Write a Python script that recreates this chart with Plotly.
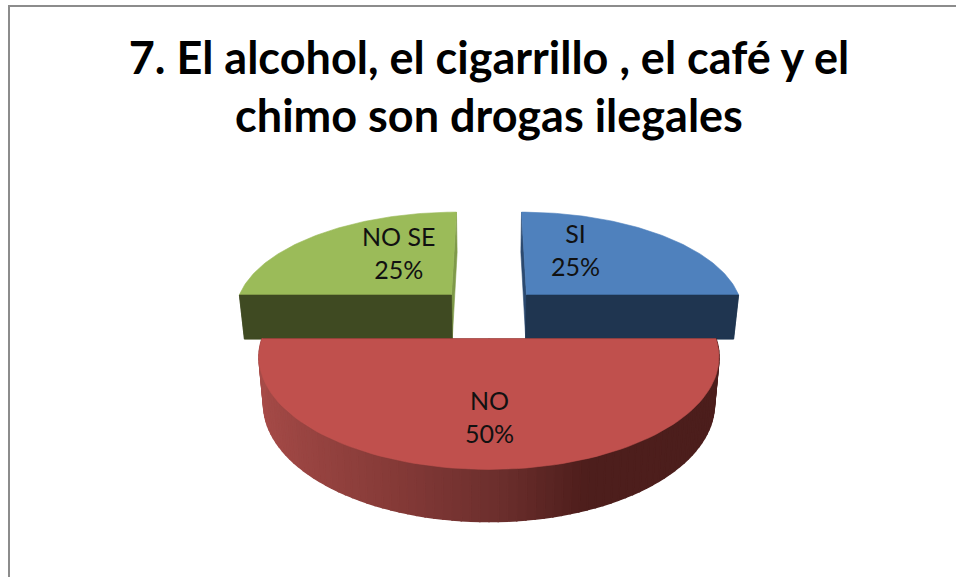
import math
import plotly.graph_objects as go

# ---- data ----
categories = ["SI", "NO", "NO SE"]
percentages = [25, 50, 25]
title_lines = ["7. El alcohol, el cigarrillo , el café y el", "chimo son drogas ilegales"]

# ---- style ----
TOP_COLORS = ["#4f81bd", "#c0504d", "#9bbb59"]
SIDE_COLORS = ["#1f3550", "#4f1f1d", "#3f4a22"]
CUT_COLORS = [("#2c4a70", "#1f3550"), ("#4f1f1d", "#4f1f1d"), ("#3f4a22", "#7f9a49")]
RED_GRADIENT = [(0.0, (168, 76, 73)), (0.3, (136, 60, 57)), (0.52, (108, 47, 45)), (0.68, (78, 30, 28)), (1.0, (76, 30, 28))]
FONT = "Lato, Carlito, Calibri, sans-serif"
W, H = 956, 577
CX = 489.0
S0 = 218.0
K = 0.157
Y_H = -330.7
Y_SCALE = 2.95
DEPTH_A = 15.2
DEPTH_B = 0.136
SHRINK = 0.98
EXPLODE = 0.25
LABEL_OFFSET = [(0.264, -0.51), (0.0, 0.634), (-0.28, -0.48)]


def project(u, v, lower=False):
    s = S0 / (1 - K * v)
    x = CX + s * u
    y = Y_H + Y_SCALE * s
    if lower:
        x = CX + (x - CX) * SHRINK
        y += DEPTH_A + DEPTH_B * s
    return x, y


def slice_params():
    total = sum(percentages)
    start = 0.0
    out = []
    for p in percentages:
        sweep = 2 * math.pi * p / total
        mid = start + sweep / 2
        out.append((start, start + sweep, EXPLODE * math.sin(mid), -EXPLODE * math.cos(mid)))
        start += sweep
    return out


def arc(a0, a1, ou, ov, n=90):
    return [(ou + math.sin(a0 + (a1 - a0) * i / n), ov - math.cos(a0 + (a1 - a0) * i / n)) for i in range(n + 1)]


def poly(pts, color, width=0.6):
    xs = [p[0] for p in pts] + [pts[0][0]]
    ys = [p[1] for p in pts] + [pts[0][1]]
    return go.Scatter(x=xs, y=ys, mode="lines", fill="toself", fillcolor=color,
                      line=dict(color=color, width=width), hoverinfo="skip", showlegend=False)


def gradient(t):
    for (t0, c0), (t1, c1) in zip(RED_GRADIENT, RED_GRADIENT[1:]):
        if t <= t1:
            f = (t - t0) / (t1 - t0)
            return "rgb(%d,%d,%d)" % tuple(c0[i] + (c1[i] - c0[i]) * f for i in range(3))
    return "rgb(%d,%d,%d)" % RED_GRADIENT[-1][1]


fig = go.Figure()
params = slice_params()
# back slices first, the front one last
order = sorted(range(len(params)), key=lambda i: params[i][3])
for i in order:
    a0, a1, ou, ov = params[i]
    rim = arc(a0, a1, ou, ov)
    apex = (ou, ov)
    is_front = ov > 0
    # radial cut faces
    for a, cut_color in zip((a0, a1), CUT_COLORS[i]):
        outer = (ou + math.sin(a), ov - math.cos(a))
        fig.add_trace(poly([project(*apex), project(*outer), project(*outer, True), project(*apex, True)], cut_color))
    # rim: only the front slice shows it, with its shading
    if is_front:
        n = len(rim) - 1
        for j in range(n):
            p, q = rim[j], rim[j + 1]
            color = gradient((((p[0] + q[0]) / 2 - ou) + 1) / 2)
            fig.add_trace(poly([project(*p), project(*q), project(*q, True), project(*p, True)], color, 1.6))
    # top
    fig.add_trace(poly([project(*apex)] + [project(*p) for p in rim], TOP_COLORS[i]))
    # front cut faces of the back slices sit under the top edge
    if not is_front:
        near = a0 if abs(math.cos(a0)) < abs(math.cos(a1)) else a1
        outer = (ou + math.sin(near), ov - math.cos(near))
        fig.add_trace(poly([project(*apex), project(*outer), project(*outer, True), project(*apex, True)], SIDE_COLORS[i]))

annotations = []
for i, (a0, a1, ou, ov) in enumerate(params):
    x, y = project(ou + LABEL_OFFSET[i][0], ov + LABEL_OFFSET[i][1])
    annotations.append(dict(x=x, y=y, xref="x", yref="y", showarrow=False,
                            text=f"{categories[i]}<br>{percentages[i]}%",
                            font=dict(family=FONT, size=25, color="#111111"), align="center"))

fig.update_layout(
    width=W, height=H, margin=dict(l=0, r=0, t=0, b=0),
    paper_bgcolor="white", plot_bgcolor="white", showlegend=False,
    xaxis=dict(range=[0, W], visible=False, fixedrange=True),
    yaxis=dict(range=[H, 0], visible=False, fixedrange=True),
    title=dict(text="<br>".join(title_lines), x=CX / W, xanchor="center", y=0.872, yanchor="bottom",
               yref="container", font=dict(family=FONT, size=45, color="#000000", weight="bold")),
    annotations=annotations,
    shapes=[dict(type="path", path=f"M 9 {H} L 9 6 L {W} 6", xref="x", yref="y",
                 line=dict(color="#8c8c8c", width=2))],
)
fig.write_html("out.html", config={"displayModeBar": False}, post_script="document.body.style.margin='0';")
